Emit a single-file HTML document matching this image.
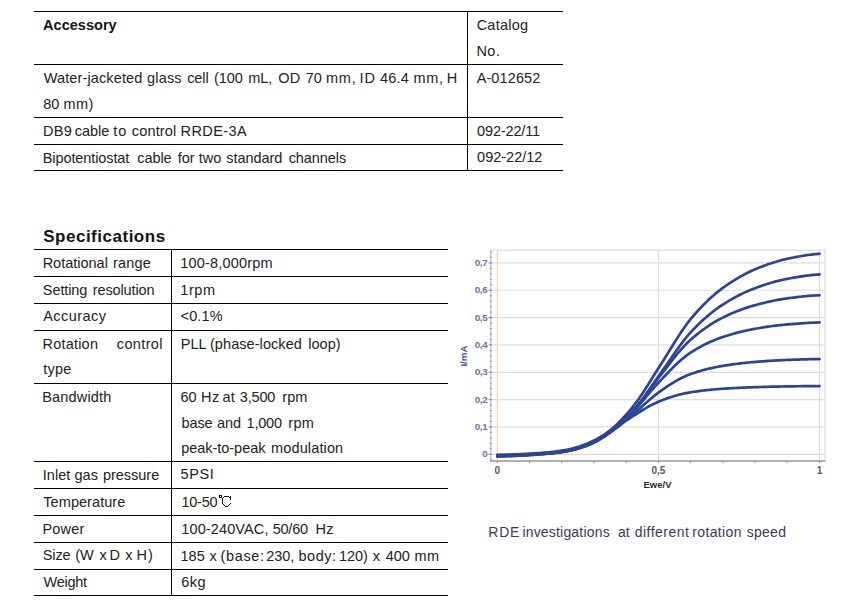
<!DOCTYPE html>
<html><head><meta charset="utf-8"><title>RRDE-3A accessories and specifications</title>
<style>
html,body{margin:0;padding:0;background:#fff;}
body{width:857px;height:604px;position:relative;overflow:hidden;font-family:"Liberation Sans",sans-serif;}
.t{position:absolute;white-space:pre;line-height:20px;font-size:14px;}
.l{position:absolute;}
.abs{position:absolute;}
.yl{position:absolute;left:460px;width:27.3px;text-align:right;font-size:9.8px;line-height:12px;font-weight:bold;color:#6a7299;letter-spacing:-0.35px;}
.xl{position:absolute;top:465px;width:30px;text-align:center;font-size:10px;line-height:12px;font-weight:bold;color:#5a5a5a;}
.xt{position:absolute;left:643.5px;top:478.5px;font-size:9.5px;line-height:12px;font-weight:bold;color:#2a2a2a;}
.yt{position:absolute;left:453px;top:350px;font-size:9.8px;line-height:12px;font-weight:bold;color:#44509a;transform:rotate(-90deg);transform-origin:center;}
</style></head><body>
<div class="l" style="left:34px;top:11px;width:529px;height:1px;background:#000"></div><div class="l" style="left:34px;top:64px;width:529px;height:1px;background:#000"></div><div class="l" style="left:34px;top:117px;width:529px;height:1px;background:#000"></div><div class="l" style="left:34px;top:144px;width:529px;height:1px;background:#000"></div><div class="l" style="left:34px;top:170px;width:529px;height:1px;background:#000"></div><div class="l" style="left:467px;top:11px;width:1px;height:160px;background:#000"></div><div class="l" style="left:34px;top:249px;width:414px;height:1px;background:#000"></div><div class="l" style="left:34px;top:276px;width:414px;height:1px;background:#000"></div><div class="l" style="left:34px;top:303px;width:414px;height:1px;background:#000"></div><div class="l" style="left:34px;top:330px;width:414px;height:1px;background:#000"></div><div class="l" style="left:34px;top:383px;width:414px;height:1px;background:#000"></div><div class="l" style="left:34px;top:461px;width:414px;height:1px;background:#000"></div><div class="l" style="left:34px;top:488px;width:414px;height:1px;background:#000"></div><div class="l" style="left:34px;top:515px;width:414px;height:1px;background:#000"></div><div class="l" style="left:34px;top:542px;width:414px;height:1px;background:#000"></div><div class="l" style="left:34px;top:569px;width:414px;height:1px;background:#000"></div><div class="l" style="left:34px;top:595px;width:414px;height:1px;background:#000"></div><div class="l" style="left:171px;top:249px;width:1px;height:347px;background:#000"></div>
<div class="t" style="left:43.10px;top:15px;font-size:14.5px;letter-spacing:0.021px;word-spacing:0.000px;color:#141414;font-weight:bold">Accessory</div><div class="t" style="left:476.64px;top:15px;font-size:14.5px;letter-spacing:0.244px;word-spacing:0.000px;color:#222">Catalog</div><div class="t" style="left:476.44px;top:41px;font-size:14.5px;letter-spacing:0.462px;word-spacing:0.000px;color:#222">No.</div><div class="t" style="left:43.78px;top:68px;font-size:14.5px;letter-spacing:0.120px;word-spacing:0.000px;color:#222">Water-jacketed</div><div class="t" style="left:147.10px;top:68px;font-size:14.5px;letter-spacing:0.160px;word-spacing:0.000px;color:#222">glass</div><div class="t" style="left:187.16px;top:68px;font-size:14.5px;letter-spacing:-0.100px;word-spacing:0.000px;color:#222">cell</div><div class="t" style="left:214.02px;top:68px;font-size:14.5px;letter-spacing:-0.100px;word-spacing:0.000px;color:#222">(100</div><div class="t" style="left:248.14px;top:68px;font-size:14.5px;letter-spacing:0.000px;word-spacing:0.000px;color:#222">mL,</div><div class="t" style="left:278.14px;top:68px;font-size:14.5px;letter-spacing:0.421px;word-spacing:0.000px;color:#222">OD</div><div class="t" style="left:305.74px;top:68px;font-size:14.5px;letter-spacing:0.000px;word-spacing:0.000px;color:#222">70</div><div class="t" style="left:325.98px;top:68px;font-size:14.5px;letter-spacing:0.771px;word-spacing:0.000px;color:#222">mm,</div><div class="t" style="left:359.50px;top:68px;font-size:14.5px;letter-spacing:0.971px;word-spacing:0.000px;color:#222">ID</div><div class="t" style="left:379.98px;top:68px;font-size:14.5px;letter-spacing:0.181px;word-spacing:0.000px;color:#222">46.4</div><div class="t" style="left:413.42px;top:68px;font-size:14.5px;letter-spacing:0.771px;word-spacing:0.000px;color:#222">mm,</div><div class="t" style="left:446.84px;top:68px;font-size:14.5px;letter-spacing:0.000px;word-spacing:0.000px;color:#222">H</div><div class="t" style="left:43.30px;top:94px;font-size:14.5px;letter-spacing:0.000px;word-spacing:0.000px;color:#222">80</div><div class="t" style="left:63.60px;top:94px;font-size:14.5px;letter-spacing:0.371px;word-spacing:0.000px;color:#222">mm)</div><div class="t" style="left:476.66px;top:68px;font-size:14.5px;letter-spacing:0.108px;word-spacing:0.000px;color:#222">A-012652</div><div class="t" style="left:42.94px;top:121px;font-size:14.5px;letter-spacing:0.329px;word-spacing:0.000px;color:#222">DB9</div><div class="t" style="left:74.64px;top:121px;font-size:14.5px;letter-spacing:0.020px;word-spacing:0.000px;color:#222">cable</div><div class="t" style="left:113.14px;top:121px;font-size:14.5px;letter-spacing:1.000px;word-spacing:0.000px;color:#222">to</div><div class="t" style="left:131.76px;top:121px;font-size:14.5px;letter-spacing:0.177px;word-spacing:0.000px;color:#222">control</div><div class="t" style="left:180.56px;top:121px;font-size:14.5px;letter-spacing:0.430px;word-spacing:0.000px;color:#222">RRDE-3A</div><div class="t" style="left:477.10px;top:121px;font-size:14.5px;letter-spacing:-0.156px;word-spacing:0.000px;color:#222">092-22/11</div><div class="t" style="left:42.78px;top:148px;font-size:14.5px;letter-spacing:-0.100px;word-spacing:0.000px;color:#222">Bipotentiostat</div><div class="t" style="left:137.20px;top:148px;font-size:14.5px;letter-spacing:-0.060px;word-spacing:0.000px;color:#222">cable</div><div class="t" style="left:177.76px;top:148px;font-size:14.5px;letter-spacing:0.000px;word-spacing:0.000px;color:#222">for</div><div class="t" style="left:198.78px;top:148px;font-size:14.5px;letter-spacing:0.000px;word-spacing:0.000px;color:#222">two</div><div class="t" style="left:226.32px;top:148px;font-size:14.5px;letter-spacing:-0.077px;word-spacing:0.000px;color:#222">standard</div><div class="t" style="left:288.64px;top:148px;font-size:14.5px;letter-spacing:-0.077px;word-spacing:0.000px;color:#222">channels</div><div class="t" style="left:477.10px;top:147px;font-size:14.5px;letter-spacing:0.002px;word-spacing:0.000px;color:#222">092-22/12</div><div class="t" style="left:43.20px;top:227px;font-size:17px;letter-spacing:0.514px;word-spacing:0.000px;color:#141414;font-weight:bold">Specifications</div><div class="t" style="left:42.66px;top:253px;font-size:14.5px;letter-spacing:-0.011px;word-spacing:0.000px;color:#222">Rotational</div><div class="t" style="left:113.08px;top:253px;font-size:14.5px;letter-spacing:0.140px;word-spacing:0.000px;color:#222">range</div><div class="t" style="left:180.32px;top:253px;font-size:14.5px;letter-spacing:0.187px;word-spacing:0.000px;color:#222">100-8,000rpm</div><div class="t" style="left:42.86px;top:280px;font-size:14.5px;letter-spacing:-0.100px;word-spacing:0.000px;color:#222">Setting</div><div class="t" style="left:92.86px;top:280px;font-size:14.5px;letter-spacing:-0.136px;word-spacing:0.000px;color:#222">resolution</div><div class="t" style="left:180.32px;top:280px;font-size:14.5px;letter-spacing:0.541px;word-spacing:0.000px;color:#222">1rpm</div><div class="t" style="left:43.22px;top:306px;font-size:14.5px;letter-spacing:0.443px;word-spacing:0.000px;color:#222">Accuracy</div><div class="t" style="left:180.52px;top:306px;font-size:14.5px;letter-spacing:0.159px;word-spacing:0.000px;color:#222">&lt;0.1%</div><div class="t" style="left:42.44px;top:334px;font-size:14.5px;letter-spacing:0.217px;word-spacing:0.000px;color:#222">Rotation</div><div class="t" style="left:116.86px;top:334px;font-size:14.5px;letter-spacing:0.347px;word-spacing:0.000px;color:#222">control</div><div class="t" style="left:180.76px;top:334px;font-size:14.5px;letter-spacing:0.000px;word-spacing:0.000px;color:#222">PLL</div><div class="t" style="left:209.98px;top:334px;font-size:14.5px;letter-spacing:0.067px;word-spacing:0.000px;color:#222">(phase-locked</div><div class="t" style="left:308.20px;top:334px;font-size:14.5px;letter-spacing:0.040px;word-spacing:0.000px;color:#222">loop)</div><div class="t" style="left:43.22px;top:359px;font-size:14.5px;letter-spacing:0.226px;word-spacing:0.000px;color:#222">type</div><div class="t" style="left:42.22px;top:387px;font-size:14.5px;letter-spacing:0.171px;word-spacing:0.000px;color:#222">Bandwidth</div><div class="t" style="left:180.56px;top:387px;font-size:14.5px;letter-spacing:0.000px;word-spacing:0.000px;color:#222">60</div><div class="t" style="left:200.90px;top:387px;font-size:14.5px;letter-spacing:0.629px;word-spacing:0.000px;color:#222">Hz</div><div class="t" style="left:222.62px;top:387px;font-size:14.5px;letter-spacing:0.000px;word-spacing:0.000px;color:#222">at</div><div class="t" style="left:239.86px;top:387px;font-size:14.5px;letter-spacing:-0.200px;word-spacing:0.000px;color:#222">3,500</div><div class="t" style="left:282.32px;top:387px;font-size:14.5px;letter-spacing:0.004px;word-spacing:0.000px;color:#222">rpm</div><div class="t" style="left:181.48px;top:413px;font-size:14.5px;letter-spacing:-0.100px;word-spacing:0.000px;color:#222">base</div><div class="t" style="left:216.92px;top:413px;font-size:14.5px;letter-spacing:0.000px;word-spacing:0.000px;color:#222">and</div><div class="t" style="left:246.56px;top:413px;font-size:14.5px;letter-spacing:-0.200px;word-spacing:0.000px;color:#222">1,000</div><div class="t" style="left:288.30px;top:413px;font-size:14.5px;letter-spacing:0.254px;word-spacing:0.000px;color:#222">rpm</div><div class="t" style="left:181.20px;top:438px;font-size:14.5px;letter-spacing:-0.035px;word-spacing:0.000px;color:#222">peak-to-peak</div><div class="t" style="left:271.08px;top:438px;font-size:14.5px;letter-spacing:0.130px;word-spacing:0.000px;color:#222">modulation</div><div class="t" style="left:42.66px;top:465px;font-size:14.5px;letter-spacing:0.075px;word-spacing:0.000px;color:#222">Inlet</div><div class="t" style="left:74.54px;top:465px;font-size:14.5px;letter-spacing:0.000px;word-spacing:0.000px;color:#222">gas</div><div class="t" style="left:102.98px;top:465px;font-size:14.5px;letter-spacing:-0.020px;word-spacing:0.000px;color:#222">pressure</div><div class="t" style="left:180.52px;top:464px;font-size:14.5px;letter-spacing:0.584px;word-spacing:0.000px;color:#222">5PSI</div><div class="t" style="left:43.32px;top:492px;font-size:14.5px;letter-spacing:0.058px;word-spacing:0.000px;color:#222">Temperature</div><div class="t" style="left:181.56px;top:492px;font-size:14.5px;letter-spacing:-0.280px;word-spacing:0.000px;color:#222">10-50</div><div class="t" style="left:42.44px;top:519px;font-size:14.5px;letter-spacing:0.182px;word-spacing:0.000px;color:#222">Power</div><div class="t" style="left:181.34px;top:519px;font-size:14.5px;letter-spacing:0.115px;word-spacing:0.000px;color:#222">100-240VAC,</div><div class="t" style="left:272.64px;top:519px;font-size:14.5px;letter-spacing:-0.200px;word-spacing:0.000px;color:#222">50/60</div><div class="t" style="left:315.44px;top:519px;font-size:14.5px;letter-spacing:0.329px;word-spacing:0.000px;color:#222">Hz</div><div class="t" style="left:42.70px;top:545px;font-size:14.5px;letter-spacing:-0.100px;word-spacing:0.000px;color:#222">Size</div><div class="t" style="left:75.22px;top:545px;font-size:14.5px;letter-spacing:0.000px;word-spacing:0.000px;color:#222">(W</div><div class="t" style="left:99.40px;top:545px;font-size:14.5px;letter-spacing:0.000px;word-spacing:0.000px;color:#222">x</div><div class="t" style="left:109.50px;top:545px;font-size:14.5px;letter-spacing:0.000px;word-spacing:0.000px;color:#222">D</div><div class="t" style="left:125.16px;top:545px;font-size:14.5px;letter-spacing:0.000px;word-spacing:0.000px;color:#222">x</div><div class="t" style="left:136.50px;top:545px;font-size:14.5px;letter-spacing:1.000px;word-spacing:0.000px;color:#222">H)</div><div class="t" style="left:180.54px;top:546px;font-size:14.5px;letter-spacing:0.000px;word-spacing:0.000px;color:#222">185</div><div class="t" style="left:209.46px;top:546px;font-size:14.5px;letter-spacing:0.000px;word-spacing:0.000px;color:#222">x</div><div class="t" style="left:220.52px;top:546px;font-size:14.5px;letter-spacing:0.642px;word-spacing:0.000px;color:#222">(base:</div><div class="t" style="left:266.28px;top:546px;font-size:14.5px;letter-spacing:-0.100px;word-spacing:0.000px;color:#222">230,</div><div class="t" style="left:298.42px;top:546px;font-size:14.5px;letter-spacing:0.564px;word-spacing:0.000px;color:#222">body:</div><div class="t" style="left:339.04px;top:546px;font-size:14.5px;letter-spacing:-0.100px;word-spacing:0.000px;color:#222">120)</div><div class="t" style="left:372.82px;top:546px;font-size:14.5px;letter-spacing:0.000px;word-spacing:0.000px;color:#222">x</div><div class="t" style="left:385.72px;top:546px;font-size:14.5px;letter-spacing:0.000px;word-spacing:0.000px;color:#222">400</div><div class="t" style="left:414.42px;top:546px;font-size:14.5px;letter-spacing:0.621px;word-spacing:0.000px;color:#222">mm</div><div class="t" style="left:43.44px;top:572px;font-size:14.5px;letter-spacing:-0.236px;word-spacing:0.000px;color:#222">Weight</div><div class="t" style="left:181.32px;top:572px;font-size:14.5px;letter-spacing:0.473px;word-spacing:0.000px;color:#222">6kg</div><div class="t" style="left:488.22px;top:522px;font-size:14px;letter-spacing:0.840px;word-spacing:0.000px;color:#3a3a58">RDE</div><div class="t" style="left:522.42px;top:522px;font-size:14px;letter-spacing:0.187px;word-spacing:0.000px;color:#3a3a58">investigations</div><div class="t" style="left:617.94px;top:522px;font-size:14px;letter-spacing:0.000px;word-spacing:0.000px;color:#3a3a58">at</div><div class="t" style="left:634.64px;top:522px;font-size:14px;letter-spacing:0.505px;word-spacing:0.000px;color:#3a3a58">different</div><div class="t" style="left:692.30px;top:522px;font-size:14px;letter-spacing:0.353px;word-spacing:0.000px;color:#3a3a58">rotation</div><div class="t" style="left:746.64px;top:522px;font-size:14px;letter-spacing:0.305px;word-spacing:0.000px;color:#3a3a58">speed</div>
<svg class="abs" width="857" height="604" style="left:0;top:0" fill="#141414"><rect x="219" y="495" width="3" height="1"/><rect x="219" y="497" width="3" height="1"/><rect x="219" y="496" width="1" height="1"/><rect x="221" y="496" width="1" height="1"/><rect x="224" y="496" width="5" height="1"/><rect x="223" y="497" width="1" height="1"/><rect x="222" y="498" width="1" height="6"/><rect x="223" y="504" width="1" height="1"/><rect x="224" y="505" width="1" height="1"/><rect x="225" y="506" width="3" height="1"/><rect x="228" y="505" width="1" height="1"/><rect x="229" y="504" width="1" height="1"/><rect x="230" y="503" width="1" height="1"/><rect x="229" y="497" width="1" height="1"/><rect x="230" y="496" width="1" height="4"/></svg>
<svg class="abs" width="857" height="604" style="left:0;top:0"><rect x="490.5" y="250.2" width="334.6" height="210.8" fill="none" stroke="#dfdfdf" stroke-width="1.3"/><line x1="491" x2="825" y1="426.96" y2="426.96" stroke="#dcdcdc" stroke-width="1.2"/><line x1="491" x2="825" y1="399.62" y2="399.62" stroke="#dcdcdc" stroke-width="1.2"/><line x1="491" x2="825" y1="372.28" y2="372.28" stroke="#dcdcdc" stroke-width="1.2"/><line x1="491" x2="825" y1="344.94" y2="344.94" stroke="#dcdcdc" stroke-width="1.2"/><line x1="491" x2="825" y1="317.60" y2="317.60" stroke="#dcdcdc" stroke-width="1.2"/><line x1="491" x2="825" y1="290.26" y2="290.26" stroke="#dcdcdc" stroke-width="1.2"/><line x1="491" x2="825" y1="262.92" y2="262.92" stroke="#dcdcdc" stroke-width="1.2"/><line x1="658.40" x2="658.40" y1="251" y2="461" stroke="#dcdcdc" stroke-width="1.2"/><line x1="819.50" x2="819.50" y1="251" y2="461" stroke="#dcdcdc" stroke-width="1.2"/><line x1="491" x2="825" y1="454.30" y2="454.30" stroke="#f8d2b4" stroke-width="1.2"/><line x1="497.30" x2="497.30" y1="251" y2="461" stroke="#f8d2b4" stroke-width="1.2"/><line x1="490.8" x2="490.8" y1="251" y2="461" stroke="#c5c8e4" stroke-width="1.3"/><line x1="490" x2="491.8" y1="459.77" y2="459.77" stroke="#7f87b8" stroke-width="1"/><line x1="490" x2="491.8" y1="454.30" y2="454.30" stroke="#7f87b8" stroke-width="1"/><line x1="490" x2="491.8" y1="448.83" y2="448.83" stroke="#7f87b8" stroke-width="1"/><line x1="490" x2="491.8" y1="443.36" y2="443.36" stroke="#7f87b8" stroke-width="1"/><line x1="490" x2="491.8" y1="437.90" y2="437.90" stroke="#7f87b8" stroke-width="1"/><line x1="490" x2="491.8" y1="432.43" y2="432.43" stroke="#7f87b8" stroke-width="1"/><line x1="490" x2="491.8" y1="426.96" y2="426.96" stroke="#7f87b8" stroke-width="1"/><line x1="490" x2="491.8" y1="421.49" y2="421.49" stroke="#7f87b8" stroke-width="1"/><line x1="490" x2="491.8" y1="416.02" y2="416.02" stroke="#7f87b8" stroke-width="1"/><line x1="490" x2="491.8" y1="410.56" y2="410.56" stroke="#7f87b8" stroke-width="1"/><line x1="490" x2="491.8" y1="405.09" y2="405.09" stroke="#7f87b8" stroke-width="1"/><line x1="490" x2="491.8" y1="399.62" y2="399.62" stroke="#7f87b8" stroke-width="1"/><line x1="490" x2="491.8" y1="394.15" y2="394.15" stroke="#7f87b8" stroke-width="1"/><line x1="490" x2="491.8" y1="388.68" y2="388.68" stroke="#7f87b8" stroke-width="1"/><line x1="490" x2="491.8" y1="383.22" y2="383.22" stroke="#7f87b8" stroke-width="1"/><line x1="490" x2="491.8" y1="377.75" y2="377.75" stroke="#7f87b8" stroke-width="1"/><line x1="490" x2="491.8" y1="372.28" y2="372.28" stroke="#7f87b8" stroke-width="1"/><line x1="490" x2="491.8" y1="366.81" y2="366.81" stroke="#7f87b8" stroke-width="1"/><line x1="490" x2="491.8" y1="361.34" y2="361.34" stroke="#7f87b8" stroke-width="1"/><line x1="490" x2="491.8" y1="355.88" y2="355.88" stroke="#7f87b8" stroke-width="1"/><line x1="490" x2="491.8" y1="350.41" y2="350.41" stroke="#7f87b8" stroke-width="1"/><line x1="490" x2="491.8" y1="344.94" y2="344.94" stroke="#7f87b8" stroke-width="1"/><line x1="490" x2="491.8" y1="339.47" y2="339.47" stroke="#7f87b8" stroke-width="1"/><line x1="490" x2="491.8" y1="334.00" y2="334.00" stroke="#7f87b8" stroke-width="1"/><line x1="490" x2="491.8" y1="328.54" y2="328.54" stroke="#7f87b8" stroke-width="1"/><line x1="490" x2="491.8" y1="323.07" y2="323.07" stroke="#7f87b8" stroke-width="1"/><line x1="490" x2="491.8" y1="317.60" y2="317.60" stroke="#7f87b8" stroke-width="1"/><line x1="490" x2="491.8" y1="312.13" y2="312.13" stroke="#7f87b8" stroke-width="1"/><line x1="490" x2="491.8" y1="306.66" y2="306.66" stroke="#7f87b8" stroke-width="1"/><line x1="490" x2="491.8" y1="301.20" y2="301.20" stroke="#7f87b8" stroke-width="1"/><line x1="490" x2="491.8" y1="295.73" y2="295.73" stroke="#7f87b8" stroke-width="1"/><line x1="490" x2="491.8" y1="290.26" y2="290.26" stroke="#7f87b8" stroke-width="1"/><line x1="490" x2="491.8" y1="284.79" y2="284.79" stroke="#7f87b8" stroke-width="1"/><line x1="490" x2="491.8" y1="279.32" y2="279.32" stroke="#7f87b8" stroke-width="1"/><line x1="490" x2="491.8" y1="273.86" y2="273.86" stroke="#7f87b8" stroke-width="1"/><line x1="490" x2="491.8" y1="268.39" y2="268.39" stroke="#7f87b8" stroke-width="1"/><line x1="490" x2="491.8" y1="262.92" y2="262.92" stroke="#7f87b8" stroke-width="1"/><line x1="490" x2="491.8" y1="257.45" y2="257.45" stroke="#7f87b8" stroke-width="1"/><line x1="490" x2="491.8" y1="251.98" y2="251.98" stroke="#7f87b8" stroke-width="1"/><line x1="488.5" x2="491.8" y1="454.30" y2="454.30" stroke="#7f87b8" stroke-width="1"/><line x1="488.5" x2="491.8" y1="426.96" y2="426.96" stroke="#7f87b8" stroke-width="1"/><line x1="488.5" x2="491.8" y1="399.62" y2="399.62" stroke="#7f87b8" stroke-width="1"/><line x1="488.5" x2="491.8" y1="372.28" y2="372.28" stroke="#7f87b8" stroke-width="1"/><line x1="488.5" x2="491.8" y1="344.94" y2="344.94" stroke="#7f87b8" stroke-width="1"/><line x1="488.5" x2="491.8" y1="317.60" y2="317.60" stroke="#7f87b8" stroke-width="1"/><line x1="488.5" x2="491.8" y1="290.26" y2="290.26" stroke="#7f87b8" stroke-width="1"/><line x1="488.5" x2="491.8" y1="262.92" y2="262.92" stroke="#7f87b8" stroke-width="1"/><line x1="490" x2="825.5" y1="461" y2="461" stroke="#9c9c9c" stroke-width="1.3"/><line x1="497.30" x2="497.30" y1="461" y2="463.2" stroke="#8a8a8a" stroke-width="1"/><line x1="529.52" x2="529.52" y1="461" y2="463.2" stroke="#8a8a8a" stroke-width="1"/><line x1="561.74" x2="561.74" y1="461" y2="463.2" stroke="#8a8a8a" stroke-width="1"/><line x1="593.96" x2="593.96" y1="461" y2="463.2" stroke="#8a8a8a" stroke-width="1"/><line x1="626.18" x2="626.18" y1="461" y2="463.2" stroke="#8a8a8a" stroke-width="1"/><line x1="658.40" x2="658.40" y1="461" y2="463.2" stroke="#8a8a8a" stroke-width="1"/><line x1="690.62" x2="690.62" y1="461" y2="463.2" stroke="#8a8a8a" stroke-width="1"/><line x1="722.84" x2="722.84" y1="461" y2="463.2" stroke="#8a8a8a" stroke-width="1"/><line x1="755.06" x2="755.06" y1="461" y2="463.2" stroke="#8a8a8a" stroke-width="1"/><line x1="787.28" x2="787.28" y1="461" y2="463.2" stroke="#8a8a8a" stroke-width="1"/><line x1="819.50" x2="819.50" y1="461" y2="463.2" stroke="#8a8a8a" stroke-width="1"/><path d="M497.30,456.57 L498.91,456.53 L500.52,456.48 L502.13,456.43 L503.74,456.38 L505.36,456.33 L506.97,456.27 L508.58,456.21 L510.19,456.15 L511.80,456.08 L513.41,456.01 L515.02,455.93 L516.63,455.86 L518.24,455.77 L519.85,455.69 L521.47,455.60 L523.08,455.51 L524.69,455.41 L526.30,455.31 L527.91,455.21 L529.52,455.10 L531.13,454.99 L532.74,454.87 L534.35,454.76 L535.96,454.64 L537.58,454.52 L539.19,454.40 L540.80,454.27 L542.41,454.14 L544.02,454.00 L545.63,453.86 L547.24,453.71 L548.85,453.56 L550.46,453.40 L552.07,453.23 L553.69,453.05 L555.30,452.86 L556.91,452.66 L558.52,452.44 L560.13,452.21 L561.74,451.95 L563.35,451.68 L564.96,451.39 L566.57,451.07 L568.18,450.74 L569.80,450.37 L571.41,449.99 L573.02,449.57 L574.63,449.13 L576.24,448.67 L577.85,448.17 L579.46,447.64 L581.07,447.09 L582.68,446.50 L584.29,445.88 L585.90,445.24 L587.52,444.56 L589.13,443.85 L590.74,443.09 L592.35,442.28 L593.96,441.43 L595.57,440.53 L597.18,439.58 L598.79,438.58 L600.40,437.53 L602.01,436.43 L603.63,435.29 L605.24,434.10 L606.85,432.87 L608.46,431.60 L610.07,430.30 L611.68,428.96 L613.29,427.57 L614.90,426.14 L616.51,424.65 L618.12,423.11 L619.74,421.53 L621.35,419.90 L622.96,418.21 L624.57,416.47 L626.18,414.69 L627.79,412.85 L629.40,410.97 L631.01,409.03 L632.62,407.05 L634.24,405.01 L635.85,402.89 L637.46,400.69 L639.07,398.43 L640.68,396.09 L642.29,393.70 L643.90,391.24 L645.51,388.74 L647.12,386.20 L648.73,383.63 L650.35,381.04 L651.96,378.44 L653.57,375.85 L655.18,373.27 L656.79,370.72 L658.40,368.23 L660.01,365.74 L661.62,363.22 L663.23,360.67 L664.84,358.10 L666.46,355.50 L668.07,352.90 L669.68,350.28 L671.29,347.67 L672.90,345.06 L674.51,342.47 L676.12,339.90 L677.73,337.36 L679.34,334.86 L680.95,332.40 L682.57,330.00 L684.18,327.67 L685.79,325.41 L687.40,323.23 L689.01,321.14 L690.62,319.15 L692.23,317.24 L693.84,315.35 L695.45,313.50 L697.06,311.69 L698.67,309.91 L700.29,308.17 L701.90,306.47 L703.51,304.81 L705.12,303.18 L706.73,301.59 L708.34,300.04 L709.95,298.54 L711.56,297.07 L713.17,295.64 L714.79,294.25 L716.40,292.90 L718.01,291.59 L719.62,290.32 L721.23,289.09 L722.84,287.91 L724.45,286.75 L726.06,285.61 L727.67,284.50 L729.28,283.41 L730.89,282.35 L732.51,281.31 L734.12,280.29 L735.73,279.30 L737.34,278.33 L738.95,277.39 L740.56,276.47 L742.17,275.57 L743.78,274.70 L745.39,273.86 L747.00,273.04 L748.62,272.25 L750.23,271.49 L751.84,270.75 L753.45,270.03 L755.06,269.35 L756.67,268.68 L758.28,268.02 L759.89,267.37 L761.50,266.74 L763.12,266.12 L764.73,265.51 L766.34,264.92 L767.95,264.34 L769.56,263.77 L771.17,263.23 L772.78,262.70 L774.39,262.18 L776.00,261.69 L777.61,261.21 L779.23,260.75 L780.84,260.32 L782.45,259.90 L784.06,259.51 L785.67,259.13 L787.28,258.78 L788.89,258.45 L790.50,258.11 L792.11,257.79 L793.72,257.46 L795.34,257.15 L796.95,256.84 L798.56,256.54 L800.17,256.26 L801.78,255.98 L803.39,255.71 L805.00,255.45 L806.61,255.21 L808.22,254.98 L809.83,254.76 L811.44,254.56 L813.06,254.37 L814.67,254.20 L816.28,254.05 L817.89,253.92 L819.50,253.80" fill="none" stroke="#2b4496" stroke-width="2.7" stroke-linejoin="round" stroke-linecap="round"/><path d="M497.30,456.27 L498.91,456.24 L500.52,456.20 L502.13,456.16 L503.74,456.11 L505.36,456.07 L506.97,456.02 L508.58,455.97 L510.19,455.91 L511.80,455.86 L513.41,455.79 L515.02,455.73 L516.63,455.66 L518.24,455.59 L519.85,455.52 L521.47,455.44 L523.08,455.36 L524.69,455.27 L526.30,455.18 L527.91,455.09 L529.52,455.00 L531.13,454.90 L532.74,454.80 L534.35,454.70 L535.96,454.59 L537.58,454.48 L539.19,454.37 L540.80,454.26 L542.41,454.14 L544.02,454.02 L545.63,453.90 L547.24,453.77 L548.85,453.63 L550.46,453.49 L552.07,453.34 L553.69,453.18 L555.30,453.01 L556.91,452.82 L558.52,452.63 L560.13,452.42 L561.74,452.19 L563.35,451.95 L564.96,451.68 L566.57,451.40 L568.18,451.10 L569.80,450.77 L571.41,450.42 L573.02,450.05 L574.63,449.65 L576.24,449.23 L577.85,448.78 L579.46,448.30 L581.07,447.80 L582.68,447.27 L584.29,446.71 L585.90,446.12 L587.52,445.51 L589.13,444.86 L590.74,444.17 L592.35,443.44 L593.96,442.67 L595.57,441.85 L597.18,440.99 L598.79,440.08 L600.40,439.13 L602.01,438.14 L603.63,437.10 L605.24,436.02 L606.85,434.91 L608.46,433.76 L610.07,432.58 L611.68,431.36 L613.29,430.11 L614.90,428.80 L616.51,427.46 L618.12,426.06 L619.74,424.63 L621.35,423.14 L622.96,421.62 L624.57,420.05 L626.18,418.43 L627.79,416.76 L629.40,415.06 L631.01,413.30 L632.62,411.51 L634.24,409.66 L635.85,407.74 L637.46,405.75 L639.07,403.70 L640.68,401.58 L642.29,399.41 L643.90,397.19 L645.51,394.93 L647.12,392.64 L648.73,390.31 L650.35,387.97 L651.96,385.63 L653.57,383.28 L655.18,380.96 L656.79,378.66 L658.40,376.41 L660.01,374.17 L661.62,371.90 L663.23,369.61 L664.84,367.29 L666.46,364.96 L668.07,362.61 L669.68,360.26 L671.29,357.92 L672.90,355.58 L674.51,353.25 L676.12,350.95 L677.73,348.67 L679.34,346.43 L680.95,344.23 L682.57,342.08 L684.18,339.99 L685.79,337.97 L687.40,336.02 L689.01,334.16 L690.62,332.38 L692.23,330.67 L693.84,328.99 L695.45,327.34 L697.06,325.73 L698.67,324.14 L700.29,322.59 L701.90,321.07 L703.51,319.59 L705.12,318.15 L706.73,316.73 L708.34,315.36 L709.95,314.01 L711.56,312.71 L713.17,311.44 L714.79,310.21 L716.40,309.01 L718.01,307.85 L719.62,306.72 L721.23,305.63 L722.84,304.58 L724.45,303.55 L726.06,302.54 L727.67,301.56 L729.28,300.59 L730.89,299.65 L732.51,298.73 L734.12,297.83 L735.73,296.95 L737.34,296.09 L738.95,295.26 L740.56,294.45 L742.17,293.65 L743.78,292.89 L745.39,292.14 L747.00,291.42 L748.62,290.72 L750.23,290.04 L751.84,289.39 L753.45,288.76 L755.06,288.15 L756.67,287.56 L758.28,286.98 L759.89,286.41 L761.50,285.85 L763.12,285.30 L764.73,284.77 L766.34,284.24 L767.95,283.73 L769.56,283.23 L771.17,282.75 L772.78,282.28 L774.39,281.83 L776.00,281.39 L777.61,280.97 L779.23,280.57 L780.84,280.19 L782.45,279.82 L784.06,279.47 L785.67,279.14 L787.28,278.84 L788.89,278.54 L790.50,278.25 L792.11,277.96 L793.72,277.68 L795.34,277.40 L796.95,277.13 L798.56,276.87 L800.17,276.61 L801.78,276.36 L803.39,276.13 L805.00,275.90 L806.61,275.69 L808.22,275.48 L809.83,275.29 L811.44,275.12 L813.06,274.95 L814.67,274.80 L816.28,274.67 L817.89,274.55 L819.50,274.45" fill="none" stroke="#2b4496" stroke-width="2.7" stroke-linejoin="round" stroke-linecap="round"/><path d="M497.30,455.94 L498.91,455.90 L500.52,455.87 L502.13,455.83 L503.74,455.79 L505.36,455.74 L506.97,455.70 L508.58,455.65 L510.19,455.60 L511.80,455.54 L513.41,455.48 L515.02,455.42 L516.63,455.35 L518.24,455.29 L519.85,455.21 L521.47,455.14 L523.08,455.06 L524.69,454.97 L526.30,454.89 L527.91,454.80 L529.52,454.70 L531.13,454.61 L532.74,454.51 L534.35,454.41 L535.96,454.30 L537.58,454.20 L539.19,454.09 L540.80,453.97 L542.41,453.86 L544.02,453.74 L545.63,453.61 L547.24,453.48 L548.85,453.35 L550.46,453.20 L552.07,453.05 L553.69,452.89 L555.30,452.72 L556.91,452.54 L558.52,452.34 L560.13,452.13 L561.74,451.90 L563.35,451.65 L564.96,451.39 L566.57,451.10 L568.18,450.79 L569.80,450.46 L571.41,450.10 L573.02,449.73 L574.63,449.32 L576.24,448.89 L577.85,448.44 L579.46,447.95 L581.07,447.44 L582.68,446.90 L584.29,446.33 L585.90,445.74 L587.52,445.11 L589.13,444.46 L590.74,443.76 L592.35,443.02 L593.96,442.23 L595.57,441.40 L597.18,440.53 L598.79,439.61 L600.40,438.65 L602.01,437.64 L603.63,436.60 L605.24,435.51 L606.85,434.39 L608.46,433.23 L610.07,432.05 L611.68,430.83 L613.29,429.57 L614.90,428.26 L616.51,426.92 L618.12,425.53 L619.74,424.10 L621.35,422.63 L622.96,421.12 L624.57,419.57 L626.18,417.97 L627.79,416.34 L629.40,414.66 L631.01,412.95 L632.62,411.20 L634.24,409.39 L635.85,407.53 L637.46,405.61 L639.07,403.63 L640.68,401.60 L642.29,399.52 L643.90,397.41 L645.51,395.26 L647.12,393.09 L648.73,390.91 L650.35,388.72 L651.96,386.53 L653.57,384.36 L655.18,382.21 L656.79,380.10 L658.40,378.04 L660.01,376.01 L661.62,373.95 L663.23,371.88 L664.84,369.80 L666.46,367.72 L668.07,365.64 L669.68,363.57 L671.29,361.51 L672.90,359.46 L674.51,357.44 L676.12,355.45 L677.73,353.49 L679.34,351.57 L680.95,349.70 L682.57,347.88 L684.18,346.12 L685.79,344.42 L687.40,342.80 L689.01,341.25 L690.62,339.78 L692.23,338.37 L693.84,336.99 L695.45,335.64 L697.06,334.33 L698.67,333.04 L700.29,331.79 L701.90,330.57 L703.51,329.38 L705.12,328.23 L706.73,327.10 L708.34,326.01 L709.95,324.95 L711.56,323.92 L713.17,322.92 L714.79,321.95 L716.40,321.02 L718.01,320.12 L719.62,319.24 L721.23,318.40 L722.84,317.58 L724.45,316.79 L726.06,316.02 L727.67,315.27 L729.28,314.53 L730.89,313.81 L732.51,313.11 L734.12,312.43 L735.73,311.76 L737.34,311.11 L738.95,310.48 L740.56,309.87 L742.17,309.28 L743.78,308.70 L745.39,308.15 L747.00,307.61 L748.62,307.09 L750.23,306.58 L751.84,306.10 L753.45,305.63 L755.06,305.18 L756.67,304.75 L758.28,304.32 L759.89,303.90 L761.50,303.48 L763.12,303.08 L764.73,302.69 L766.34,302.30 L767.95,301.93 L769.56,301.57 L771.17,301.21 L772.78,300.87 L774.39,300.54 L776.00,300.23 L777.61,299.92 L779.23,299.63 L780.84,299.35 L782.45,299.08 L784.06,298.83 L785.67,298.60 L787.28,298.37 L788.89,298.16 L790.50,297.95 L792.11,297.74 L793.72,297.54 L795.34,297.34 L796.95,297.14 L798.56,296.95 L800.17,296.77 L801.78,296.59 L803.39,296.43 L805.00,296.26 L806.61,296.11 L808.22,295.96 L809.83,295.83 L811.44,295.70 L813.06,295.58 L814.67,295.48 L816.28,295.38 L817.89,295.30 L819.50,295.23" fill="none" stroke="#2b4496" stroke-width="2.7" stroke-linejoin="round" stroke-linecap="round"/><path d="M497.30,455.60 L498.91,455.57 L500.52,455.54 L502.13,455.51 L503.74,455.47 L505.36,455.43 L506.97,455.38 L508.58,455.34 L510.19,455.29 L511.80,455.24 L513.41,455.18 L515.02,455.12 L516.63,455.06 L518.24,454.99 L519.85,454.92 L521.47,454.85 L523.08,454.77 L524.69,454.69 L526.30,454.61 L527.91,454.52 L529.52,454.43 L531.13,454.33 L532.74,454.24 L534.35,454.14 L535.96,454.04 L537.58,453.93 L539.19,453.83 L540.80,453.72 L542.41,453.60 L544.02,453.48 L545.63,453.36 L547.24,453.23 L548.85,453.10 L550.46,452.96 L552.07,452.81 L553.69,452.65 L555.30,452.48 L556.91,452.30 L558.52,452.11 L560.13,451.90 L561.74,451.67 L563.35,451.42 L564.96,451.15 L566.57,450.87 L568.18,450.56 L569.80,450.23 L571.41,449.87 L573.02,449.49 L574.63,449.09 L576.24,448.66 L577.85,448.20 L579.46,447.72 L581.07,447.21 L582.68,446.67 L584.29,446.10 L585.90,445.51 L587.52,444.89 L589.13,444.23 L590.74,443.54 L592.35,442.80 L593.96,442.02 L595.57,441.20 L597.18,440.33 L598.79,439.42 L600.40,438.47 L602.01,437.48 L603.63,436.44 L605.24,435.37 L606.85,434.27 L608.46,433.14 L610.07,431.98 L611.68,430.79 L613.29,429.57 L614.90,428.30 L616.51,427.01 L618.12,425.67 L619.74,424.30 L621.35,422.89 L622.96,421.45 L624.57,419.97 L626.18,418.46 L627.79,416.92 L629.40,415.35 L631.01,413.75 L632.62,412.12 L634.24,410.45 L635.85,408.73 L637.46,406.97 L639.07,405.16 L640.68,403.32 L642.29,401.45 L643.90,399.56 L645.51,397.65 L647.12,395.73 L648.73,393.81 L650.35,391.90 L651.96,390.00 L653.57,388.13 L655.18,386.30 L656.79,384.51 L658.40,382.78 L660.01,381.07 L661.62,379.36 L663.23,377.65 L664.84,375.95 L666.46,374.26 L668.07,372.58 L669.68,370.91 L671.29,369.27 L672.90,367.65 L674.51,366.06 L676.12,364.51 L677.73,362.99 L679.34,361.51 L680.95,360.08 L682.57,358.70 L684.18,357.38 L685.79,356.10 L687.40,354.89 L689.01,353.74 L690.62,352.66 L692.23,351.63 L693.84,350.62 L695.45,349.64 L697.06,348.69 L698.67,347.77 L700.29,346.88 L701.90,346.01 L703.51,345.16 L705.12,344.35 L706.73,343.56 L708.34,342.79 L709.95,342.05 L711.56,341.34 L713.17,340.65 L714.79,339.98 L716.40,339.34 L718.01,338.72 L719.62,338.12 L721.23,337.55 L722.84,337.00 L724.45,336.46 L726.06,335.94 L727.67,335.43 L729.28,334.94 L730.89,334.46 L732.51,333.99 L734.12,333.54 L735.73,333.09 L737.34,332.67 L738.95,332.25 L740.56,331.85 L742.17,331.46 L743.78,331.08 L745.39,330.72 L747.00,330.36 L748.62,330.02 L750.23,329.70 L751.84,329.38 L753.45,329.08 L755.06,328.79 L756.67,328.51 L758.28,328.23 L759.89,327.96 L761.50,327.70 L763.12,327.44 L764.73,327.18 L766.34,326.94 L767.95,326.70 L769.56,326.47 L771.17,326.24 L772.78,326.03 L774.39,325.82 L776.00,325.62 L777.61,325.42 L779.23,325.24 L780.84,325.06 L782.45,324.89 L784.06,324.73 L785.67,324.58 L787.28,324.44 L788.89,324.31 L790.50,324.18 L792.11,324.05 L793.72,323.92 L795.34,323.79 L796.95,323.67 L798.56,323.55 L800.17,323.44 L801.78,323.33 L803.39,323.22 L805.00,323.12 L806.61,323.02 L808.22,322.93 L809.83,322.85 L811.44,322.77 L813.06,322.70 L814.67,322.63 L816.28,322.57 L817.89,322.52 L819.50,322.47" fill="none" stroke="#2b4496" stroke-width="2.7" stroke-linejoin="round" stroke-linecap="round"/><path d="M497.30,455.27 L498.91,455.24 L500.52,455.21 L502.13,455.18 L503.74,455.15 L505.36,455.11 L506.97,455.07 L508.58,455.03 L510.19,454.98 L511.80,454.93 L513.41,454.88 L515.02,454.82 L516.63,454.76 L518.24,454.70 L519.85,454.63 L521.47,454.56 L523.08,454.48 L524.69,454.40 L526.30,454.32 L527.91,454.24 L529.52,454.15 L531.13,454.06 L532.74,453.96 L534.35,453.87 L535.96,453.77 L537.58,453.66 L539.19,453.56 L540.80,453.45 L542.41,453.34 L544.02,453.22 L545.63,453.10 L547.24,452.98 L548.85,452.84 L550.46,452.70 L552.07,452.56 L553.69,452.40 L555.30,452.23 L556.91,452.05 L558.52,451.86 L560.13,451.65 L561.74,451.42 L563.35,451.18 L564.96,450.91 L566.57,450.62 L568.18,450.32 L569.80,449.99 L571.41,449.63 L573.02,449.26 L574.63,448.86 L576.24,448.43 L577.85,447.97 L579.46,447.49 L581.07,446.99 L582.68,446.45 L584.29,445.89 L585.90,445.31 L587.52,444.69 L589.13,444.05 L590.74,443.37 L592.35,442.65 L593.96,441.89 L595.57,441.09 L597.18,440.25 L598.79,439.37 L600.40,438.46 L602.01,437.51 L603.63,436.52 L605.24,435.51 L606.85,434.47 L608.46,433.41 L610.07,432.33 L611.68,431.23 L613.29,430.10 L614.90,428.94 L616.51,427.76 L618.12,426.56 L619.74,425.33 L621.35,424.08 L622.96,422.81 L624.57,421.52 L626.18,420.21 L627.79,418.89 L629.40,417.55 L631.01,416.21 L632.62,414.85 L634.24,413.47 L635.85,412.06 L637.46,410.63 L639.07,409.18 L640.68,407.73 L642.29,406.26 L643.90,404.80 L645.51,403.35 L647.12,401.90 L648.73,400.48 L650.35,399.08 L651.96,397.70 L653.57,396.37 L655.18,395.08 L656.79,393.83 L658.40,392.64 L660.01,391.47 L661.62,390.33 L663.23,389.19 L664.84,388.07 L666.46,386.98 L668.07,385.90 L669.68,384.85 L671.29,383.82 L672.90,382.82 L674.51,381.84 L676.12,380.90 L677.73,380.00 L679.34,379.12 L680.95,378.29 L682.57,377.48 L684.18,376.72 L685.79,376.00 L687.40,375.31 L689.01,374.67 L690.62,374.07 L692.23,373.50 L693.84,372.95 L695.45,372.42 L697.06,371.91 L698.67,371.41 L700.29,370.94 L701.90,370.48 L703.51,370.04 L705.12,369.61 L706.73,369.20 L708.34,368.80 L709.95,368.42 L711.56,368.06 L713.17,367.71 L714.79,367.37 L716.40,367.04 L718.01,366.73 L719.62,366.44 L721.23,366.15 L722.84,365.88 L724.45,365.61 L726.06,365.36 L727.67,365.11 L729.28,364.87 L730.89,364.63 L732.51,364.41 L734.12,364.19 L735.73,363.97 L737.34,363.77 L738.95,363.57 L740.56,363.38 L742.17,363.19 L743.78,363.01 L745.39,362.84 L747.00,362.67 L748.62,362.51 L750.23,362.36 L751.84,362.21 L753.45,362.07 L755.06,361.93 L756.67,361.80 L758.28,361.67 L759.89,361.55 L761.50,361.43 L763.12,361.31 L764.73,361.19 L766.34,361.08 L767.95,360.97 L769.56,360.86 L771.17,360.76 L772.78,360.66 L774.39,360.56 L776.00,360.47 L777.61,360.38 L779.23,360.30 L780.84,360.22 L782.45,360.14 L784.06,360.07 L785.67,360.00 L787.28,359.94 L788.89,359.88 L790.50,359.82 L792.11,359.76 L793.72,359.70 L795.34,359.64 L796.95,359.59 L798.56,359.54 L800.17,359.48 L801.78,359.43 L803.39,359.39 L805.00,359.34 L806.61,359.30 L808.22,359.26 L809.83,359.22 L811.44,359.18 L813.06,359.15 L814.67,359.12 L816.28,359.10 L817.89,359.07 L819.50,359.05" fill="none" stroke="#2b4496" stroke-width="2.7" stroke-linejoin="round" stroke-linecap="round"/><path d="M497.30,454.89 L498.91,454.86 L500.52,454.83 L502.13,454.80 L503.74,454.76 L505.36,454.73 L506.97,454.68 L508.58,454.64 L510.19,454.59 L511.80,454.53 L513.41,454.48 L515.02,454.42 L516.63,454.35 L518.24,454.28 L519.85,454.21 L521.47,454.13 L523.08,454.05 L524.69,453.97 L526.30,453.88 L527.91,453.78 L529.52,453.69 L531.13,453.58 L532.74,453.48 L534.35,453.38 L535.96,453.27 L537.58,453.15 L539.19,453.04 L540.80,452.92 L542.41,452.80 L544.02,452.67 L545.63,452.54 L547.24,452.40 L548.85,452.25 L550.46,452.10 L552.07,451.94 L553.69,451.76 L555.30,451.58 L556.91,451.38 L558.52,451.17 L560.13,450.94 L561.74,450.69 L563.35,450.42 L564.96,450.13 L566.57,449.81 L568.18,449.48 L569.80,449.12 L571.41,448.73 L573.02,448.32 L574.63,447.88 L576.24,447.42 L577.85,446.93 L579.46,446.41 L581.07,445.86 L582.68,445.29 L584.29,444.69 L585.90,444.07 L587.52,443.43 L589.13,442.75 L590.74,442.04 L592.35,441.29 L593.96,440.51 L595.57,439.69 L597.18,438.84 L598.79,437.95 L600.40,437.04 L602.01,436.10 L603.63,435.14 L605.24,434.16 L606.85,433.16 L608.46,432.15 L610.07,431.14 L611.68,430.12 L613.29,429.09 L614.90,428.05 L616.51,427.00 L618.12,425.94 L619.74,424.88 L621.35,423.82 L622.96,422.75 L624.57,421.69 L626.18,420.62 L627.79,419.57 L629.40,418.51 L631.01,417.47 L632.62,416.44 L634.24,415.40 L635.85,414.36 L637.46,413.32 L639.07,412.29 L640.68,411.27 L642.29,410.27 L643.90,409.28 L645.51,408.32 L647.12,407.38 L648.73,406.47 L650.35,405.59 L651.96,404.75 L653.57,403.94 L655.18,403.17 L656.79,402.44 L658.40,401.75 L660.01,401.09 L661.62,400.45 L663.23,399.82 L664.84,399.21 L666.46,398.63 L668.07,398.06 L669.68,397.51 L671.29,396.98 L672.90,396.47 L674.51,395.98 L676.12,395.51 L677.73,395.07 L679.34,394.64 L680.95,394.24 L682.57,393.86 L684.18,393.50 L685.79,393.17 L687.40,392.85 L689.01,392.56 L690.62,392.28 L692.23,392.03 L693.84,391.78 L695.45,391.54 L697.06,391.32 L698.67,391.10 L700.29,390.89 L701.90,390.69 L703.51,390.50 L705.12,390.32 L706.73,390.14 L708.34,389.97 L709.95,389.81 L711.56,389.66 L713.17,389.51 L714.79,389.37 L716.40,389.23 L718.01,389.10 L719.62,388.98 L721.23,388.86 L722.84,388.75 L724.45,388.64 L726.06,388.54 L727.67,388.44 L729.28,388.34 L730.89,388.25 L732.51,388.15 L734.12,388.07 L735.73,387.98 L737.34,387.90 L738.95,387.82 L740.56,387.74 L742.17,387.67 L743.78,387.60 L745.39,387.53 L747.00,387.46 L748.62,387.40 L750.23,387.34 L751.84,387.28 L753.45,387.23 L755.06,387.17 L756.67,387.12 L758.28,387.07 L759.89,387.02 L761.50,386.98 L763.12,386.93 L764.73,386.89 L766.34,386.84 L767.95,386.80 L769.56,386.76 L771.17,386.72 L772.78,386.68 L774.39,386.64 L776.00,386.61 L777.61,386.57 L779.23,386.54 L780.84,386.51 L782.45,386.48 L784.06,386.45 L785.67,386.43 L787.28,386.40 L788.89,386.38 L790.50,386.36 L792.11,386.34 L793.72,386.31 L795.34,386.29 L796.95,386.27 L798.56,386.25 L800.17,386.23 L801.78,386.21 L803.39,386.19 L805.00,386.18 L806.61,386.16 L808.22,386.15 L809.83,386.13 L811.44,386.12 L813.06,386.11 L814.67,386.09 L816.28,386.08 L817.89,386.08 L819.50,386.07" fill="none" stroke="#2b4496" stroke-width="2.7" stroke-linejoin="round" stroke-linecap="round"/></svg>
<div class="yl" style="top:448.3px">0</div><div class="yl" style="top:421.0px">0,1</div><div class="yl" style="top:393.6px">0,2</div><div class="yl" style="top:366.3px">0,3</div><div class="yl" style="top:338.9px">0,4</div><div class="yl" style="top:311.6px">0,5</div><div class="yl" style="top:284.3px">0,6</div><div class="yl" style="top:256.9px">0,7</div><div class="xl" style="left:482.3px">0</div><div class="xl" style="left:643.4px">0,5</div><div class="xl" style="left:804.5px">1</div><div class="xt">Ewe/V</div><div class="yt">I/mA</div>
</body></html>
